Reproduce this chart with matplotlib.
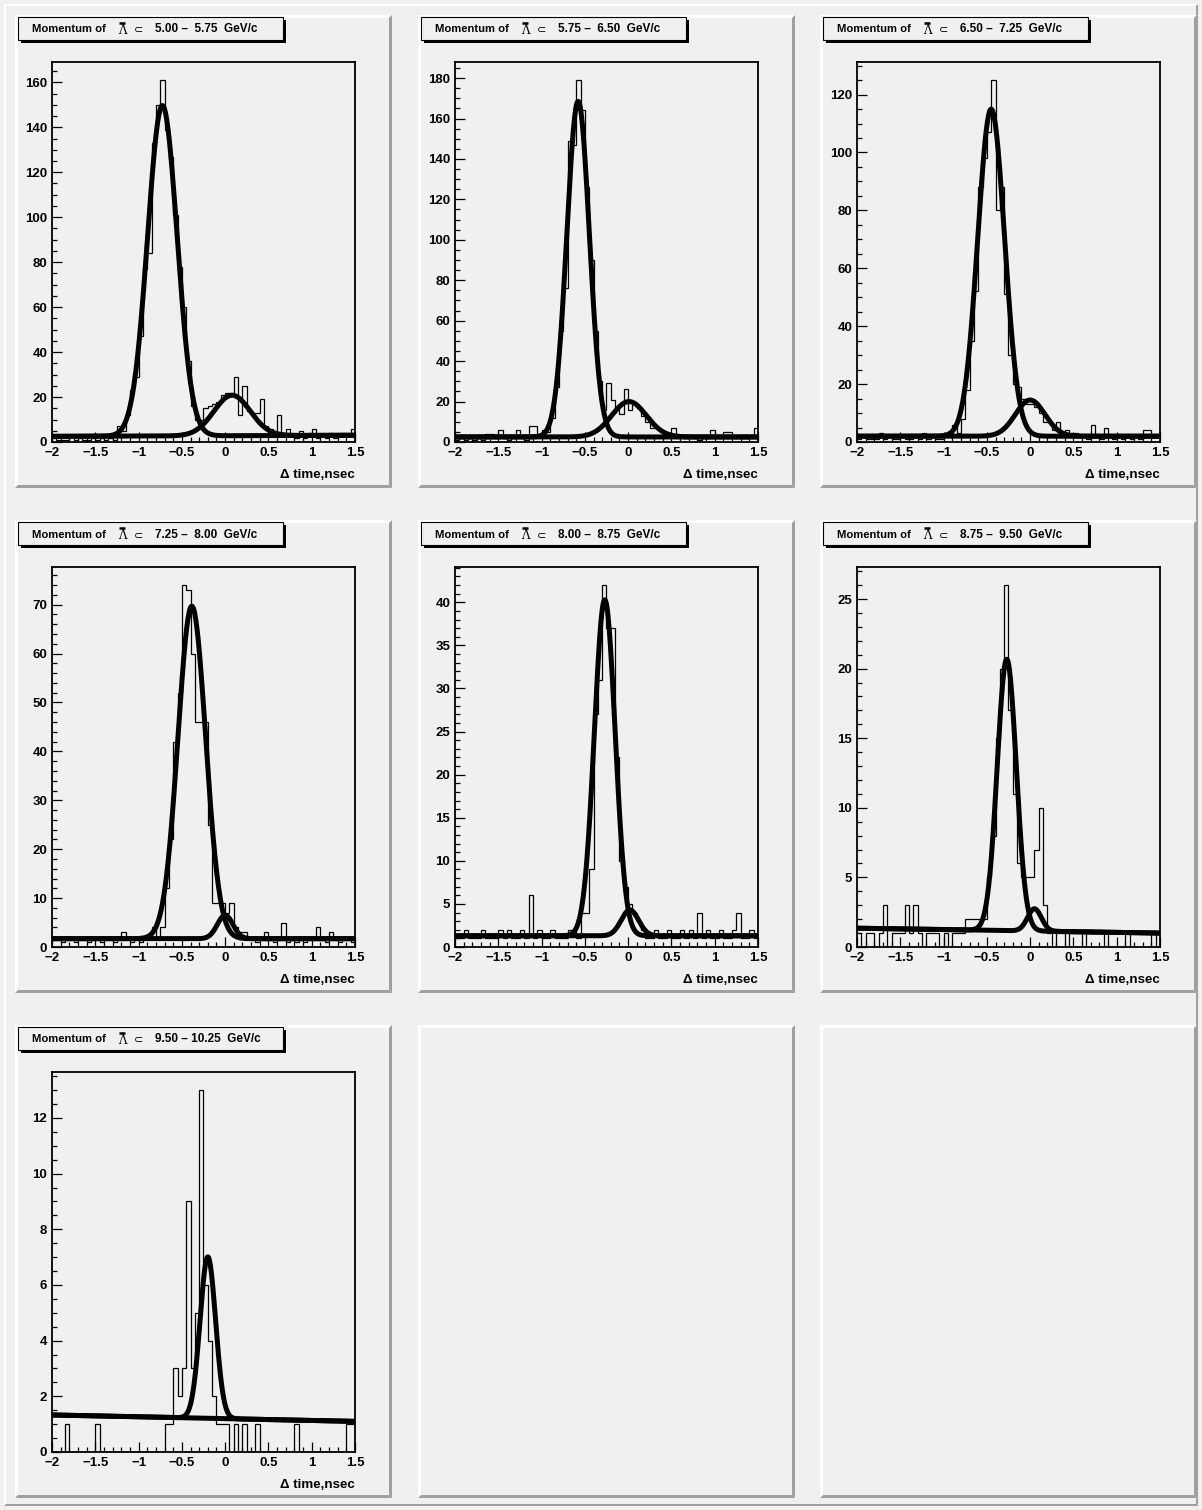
import numpy as np
import matplotlib.pyplot as plt
from matplotlib.patches import Polygon, Rectangle

# ---------- data (counts per 0.05 nsec bin, -2 .. 1.5) ----------
bin_lo, bin_hi, nbins = -2.0, 1.5, 70

titles = ["5.00 \u2013  5.75  GeV/c", "5.75 \u2013  6.50  GeV/c", "6.50 \u2013  7.25  GeV/c",
          "7.25 \u2013  8.00  GeV/c", "8.00 \u2013  8.75  GeV/c", "8.75 \u2013  9.50  GeV/c",
          "9.50 \u2013 10.25  GeV/c"]

counts1 = [2, 1, 1, 1, 3, 1, 2, 1, 1, 2,
           1, 2, 1, 2, 1, 7, 5, 12, 23, 29,
           47, 77, 84, 133, 150, 161, 139, 127, 101, 78,
           60, 36, 16, 10, 10, 15, 16, 17, 18, 21,
           22, 22, 29, 12, 25, 14, 13, 13, 19, 7,
           6, 4, 12, 4, 6, 3, 2, 5, 2, 4,
           6, 2, 3, 2, 4, 2, 3, 4, 3, 6]
counts2 = [1, 2, 1, 2, 1, 2, 1, 4, 4, 2,
           6, 2, 1, 2, 6, 2, 1, 8, 8, 4,
           6, 5, 12, 27, 55, 76, 149, 147, 179, 164,
           126, 90, 55, 30, 16, 29, 21, 17, 14, 26,
           16, 19, 17, 13, 10, 7, 7, 6, 4, 3,
           7, 2, 3, 2, 3, 2, 1, 3, 2, 6,
           3, 2, 5, 5, 2, 3, 2, 2, 3, 7]
counts3 = [1, 2, 1, 1, 1, 3, 1, 2, 1, 1,
           2, 1, 1, 2, 1, 3, 1, 2, 1, 1,
           3, 2, 6, 3, 8, 18, 35, 52, 88, 98,
           107, 125, 80, 88, 51, 30, 20, 19, 15, 13,
           13, 12, 10, 7, 7, 4, 7, 3, 4, 3,
           3, 2, 2, 1, 6, 2, 1, 5, 2, 1,
           2, 1, 2, 1, 2, 1, 4, 4, 2, 2]
counts4 = [2, 2, 1, 2, 2, 1, 2, 2, 1, 2,
           2, 1, 2, 2, 1, 2, 3, 2, 1, 2,
           1, 2, 2, 4, 2, 4, 12, 22, 42, 52,
           74, 73, 60, 46, 46, 46, 25, 9, 9, 9,
           7, 9, 4, 3, 3, 2, 2, 1, 2, 3,
           2, 1, 2, 5, 1, 2, 1, 2, 1, 2,
           2, 4, 2, 1, 3, 2, 1, 2, 2, 1]
counts5 = [1, 1, 2, 1, 1, 1, 2, 1, 1, 1,
           2, 1, 2, 1, 1, 2, 1, 6, 1, 2,
           1, 1, 2, 1, 1, 1, 2, 2, 1, 4,
           4, 9, 27, 31, 42, 37, 37, 22, 10, 7,
           5, 4, 3, 2, 1, 1, 2, 1, 1, 2,
           1, 1, 2, 1, 2, 1, 4, 1, 2, 1,
           1, 2, 1, 1, 2, 4, 1, 1, 2, 1]
counts6 = [1, 0, 1, 1, 0, 1, 3, 0, 1, 1,
           1, 3, 1, 3, 1, 0, 1, 1, 1, 0,
           1, 0, 1, 1, 1, 2, 2, 2, 2, 2,
           5, 8, 15, 20, 26, 17, 11, 6, 5, 5,
           5, 7, 10, 3, 1, 0, 1, 1, 0, 1,
           1, 1, 0, 1, 1, 1, 1, 0, 1, 1,
           1, 1, 0, 1, 1, 1, 1, 1, 0, 1]
counts7 = [0, 0, 0, 1, 0, 0, 0, 0, 0, 0,
           1, 0, 0, 0, 0, 0, 0, 0, 0, 0,
           0, 0, 0, 0, 0, 0, 1, 1, 3, 2,
           3, 9, 3, 5, 13, 6, 4, 2, 1, 1,
           1, 0, 1, 0, 1, 0, 0, 1, 0, 0,
           0, 0, 0, 0, 0, 0, 1, 0, 0, 0,
           0, 0, 0, 0, 0, 0, 0, 0, 1, 1]
all_counts = [counts1, counts2, counts3, counts4, counts5, counts6, counts7]

# fit parameters: (A1, mu1, s1, A2, mu2, s2, bg at -2, bg at 1.5)
fit_pars = [
    (147, -0.725, 0.170, 18.0, 0.08, 0.21, 2.5, 3.0),
    (166, -0.578, 0.130, 17.5, 0.01, 0.20, 2.5, 2.5),
    (113, -0.450, 0.155, 12.5, 0.00, 0.17, 2.0, 2.0),
    (68, -0.385, 0.160, 4.8, 0.00, 0.09, 1.7, 1.7),
    (39, -0.270, 0.120, 3.0, 0.02, 0.10, 1.3, 1.3),
    (19.5, -0.270, 0.110, 1.6, 0.05, 0.08, 1.35, 1.0),
    (5.8, -0.200, 0.090, 0.0, 0.00, 0.10, 1.33, 1.1),
]

# y axis: (major step, minor step)
y_ticks = [(20, 5), (20, 5), (20, 5), (10, 2), (5, 1), (5, 1), (2, 0.5)]

# ---------- geometry (pixels) ----------
W, H = 1202, 1510
BG = '#f0f0f0'
cols_x = [15, 418, 820]
rows_y = [15, 520, 1025]
pad_w, pad_h = 377, 473
fr_dx, fr_dy, fr_w, fr_h = 37, 47, 303, 380

plt.rcParams['font.family'] = ['Liberation Sans', 'DejaVu Sans']
plt.rcParams['font.weight'] = 'bold'

fig = plt.figure(figsize=(W / 100, H / 100), dpi=100)
fig.patch.set_facecolor(BG)
cv = fig.add_axes([0, 0, 1, 1])
cv.set_xlim(0, W)
cv.set_ylim(H, 0)
cv.axis('off')


def bevel(x0, y0, w, h, b, light='white', dark='#a0a0a0'):
    cv.add_patch(Polygon([(x0, y0), (x0 + w, y0), (x0 + w - b, y0 + b), (x0 + b, y0 + b)],
                         closed=True, fc=light, ec='none'))
    cv.add_patch(Polygon([(x0, y0), (x0 + b, y0 + b), (x0 + b, y0 + h - b), (x0, y0 + h)],
                         closed=True, fc=light, ec='none'))
    cv.add_patch(Polygon([(x0, y0 + h), (x0 + b, y0 + h - b), (x0 + w - b, y0 + h - b), (x0 + w, y0 + h)],
                         closed=True, fc=dark, ec='none'))
    cv.add_patch(Polygon([(x0 + w, y0), (x0 + w, y0 + h), (x0 + w - b, y0 + h - b), (x0 + w - b, y0 + b)],
                         closed=True, fc=dark, ec='none'))


# canvas border
bevel(4, 4, W - 8, H - 8, 2)

xs = np.linspace(bin_lo, bin_hi, 500)
edges = np.linspace(bin_lo, bin_hi, nbins + 1)

for k in range(9):
    r, c = divmod(k, 3)
    px, py = cols_x[c], rows_y[r]
    cv.add_patch(Rectangle((px, py), pad_w, pad_h, fc=BG, ec='none'))
    bevel(px, py, pad_w, pad_h, 3)
    if k >= len(all_counts):
        continue

    # title box with shadow
    tx, ty, tw, th = px + 3, py + 2, 265, 23
    cv.add_patch(Rectangle((tx + 3, ty + 3), tw, th, fc='black', ec='none'))
    cv.add_patch(Rectangle((tx, ty), tw, th, fc=BG, ec='black', lw=0.8))
    yc = ty + th / 2 + 1
    cv.text(px + 17, yc, "Momentum of", fontsize=8.1, ha='left', va='center')
    cv.text(px + 103, yc + 1, "\u039b", fontsize=8.5, family='DejaVu Serif',
            weight='normal', ha='left', va='center')
    cv.plot([px + 104, px + 110], [py + 8, py + 8], color='black', lw=1.8,
            solid_capstyle='butt')
    cv.text(px + 119, yc + 1, "\u2282", fontsize=8, family='DejaVu Sans',
            weight='normal', ha='left', va='center')
    cv.text(px + 140, yc, titles[k], fontsize=8.5, ha='left', va='center')

    # frame
    fx, fy = px + fr_dx, py + fr_dy
    ax = fig.add_axes([fx / W, 1 - (fy + fr_h) / H, fr_w / W, fr_h / H])
    ax.set_facecolor(BG)
    cnt = np.array(all_counts[k], dtype=float)
    ax.stairs(cnt, edges, color='black', lw=0.9, baseline=None)

    A1, m1, s1, A2, m2, s2, b0, b1 = fit_pars[k]
    bg = b0 + (b1 - b0) * (xs - bin_lo) / (bin_hi - bin_lo)
    ax.plot(xs, A1 * np.exp(-0.5 * ((xs - m1) / s1) ** 2) + bg, color='black', lw=3.6)
    ax.plot(xs, A2 * np.exp(-0.5 * ((xs - m2) / s2) ** 2) + bg, color='black', lw=3.6)

    ymax = 1.05 * cnt.max()
    ax.set_xlim(bin_lo, bin_hi)
    ax.set_ylim(0, ymax)
    maj, mnr = y_ticks[k]
    ax.set_yticks(np.arange(0, ymax, maj))
    ax.set_yticks(np.arange(0, ymax, mnr), minor=True)
    ax.set_xticks(np.arange(-2, 1.51, 0.5))
    ax.set_xticks(np.arange(-2, 1.51, 0.1), minor=True)
    ax.set_xticklabels(["\u22122", "\u22121.5", "\u22121", "\u22120.5", "0", "0.5", "1", "1.5"])
    ax.set_yticklabels([f"{v:g}" for v in np.arange(0, ymax, maj)])
    ax.tick_params(which='both', direction='in', top=False, right=False,
                   width=0.9, labelsize=9.5, pad=3.5)
    ax.tick_params(which='major', length=7.5)
    ax.tick_params(which='minor', length=3.8)
    for sp in ax.spines.values():
        sp.set_linewidth(1.3)
    ax.text(1.0, -0.087, "\u0394 time,nsec", transform=ax.transAxes, ha='right',
            va='center', fontsize=9.6)

fig.savefig('out.png', dpi=100, facecolor=BG)
